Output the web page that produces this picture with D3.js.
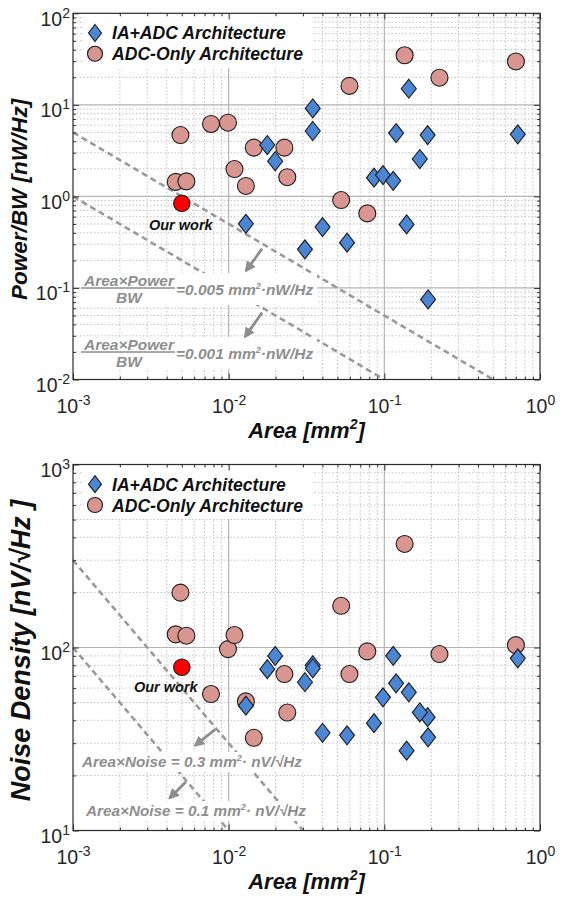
<!DOCTYPE html>
<html><head><meta charset="utf-8">
<script src="https://cdn.jsdelivr.net/npm/d3@7"></script>
<style>body{margin:0;background:#fff} svg{display:block}</style>
</head><body><svg id="c" width="566" height="904"></svg>
<script>
// ---------------- data ----------------
const iaArea    = [0.0347, 0.0347, 0.1436, 0.0177, 0.0199, 0.119, 0.1897, 0.72, 0.169, 0.0858, 0.098, 0.114, 0.0129, 0.0401, 0.139, 0.0309, 0.0576, 0.191];
const iaPowerBW = [9.15, 5.18, 15.0, 3.64, 2.42, 4.92, 4.68, 4.76, 2.56, 1.60, 1.71, 1.48, 0.502, 0.462, 0.494, 0.264, 0.312, 0.0749];
const iaNoise   = [80, 77, 56.9, 76.1, 89.9, 63.7, 41.6, 87.3, 44.2, 38.6, 53.4, 90, 48.1, 34.2, 27.3, 64.6, 33.1, 32.3];

const adcArea    = [0.135, 0.70, 0.226, 0.0597, 0.0077, 0.0099, 0.0049, 0.0145, 0.0228, 0.0109, 0.0238, 0.00457, 0.00535, 0.0129, 0.0528, 0.0777];
const adcPowerBW = [34.8, 29.8, 19.8, 16.1, 6.18, 6.38, 4.68, 3.41, 3.41, 1.99, 1.62, 1.44, 1.46, 1.30, 0.912, 0.652];
const adcNoise   = [368, 103, 92.1, 71.6, 55.7, 98, 199.5, 32.1, 71.6, 117, 44.1, 118, 116, 50.8, 169, 95.2];

const ourArea = [0.005];
const ourPowerBW = [0.84];
const ourNoise = [78];

const xTickVals = [1e-3, 1e-2, 1e-1, 1];
const powerTickVals = [1e-2, 1e-1, 1, 10, 100];
const noiseTickVals = [10, 100, 1000];
const fomPower = [0.005, 0.001];
const fomNoise = [0.3, 0.1];
const legendLabels = ["IA+ADC Architecture", "ADC-Only Architecture"];
const ourLabel = "Our work";

// ---------------- drawing ----------------
const FONT = "'Liberation Sans', Arial, Helvetica, sans-serif";
const X0 = 73, X1 = 540;
const svg = d3.select("#c").attr("font-family", FONT);

const defs = svg.append("defs");
defs.append("marker").attr("id","ah").attr("viewBox","0 0 10 10")
  .attr("refX",8).attr("refY",5).attr("markerWidth",11).attr("markerHeight",11)
  .attr("markerUnits","userSpaceOnUse").attr("orient","auto")
  .append("path").attr("d","M0,0 L10,5 L0,10 z").attr("fill","#8e8e8e");

const IA_FILL = "#4a86d4", ADC_FILL = "#d9958f", STROKE = "#1b1b1b";

function diamond(sel, w, h) {
  return sel.append("path")
    .attr("d", `M0,${-h/2} L${w/2},0 L0,${h/2} L${-w/2},0 Z`)
    .attr("fill", IA_FILL).attr("stroke", STROKE).attr("stroke-width", 1.1);
}

function minorVals(lo, hi) {
  const out = [];
  for (let k = Math.round(Math.log10(lo)); k < Math.round(Math.log10(hi)); k++)
    for (let m = 2; m <= 9; m++) out.push(m * Math.pow(10, k));
  return out;
}

function supText(sel) {
  sel.each(function(d) {
    const t = d3.select(this); t.text(null);
    t.append("tspan").text("10");
    t.append("tspan").attr("dy", -8).attr("font-size", 14).text(Math.round(Math.log10(d)));
  });
}

function drawPanel(p) {
  const x = d3.scaleLog().domain([1e-3, 1]).range([X0, X1]);
  const y = d3.scaleLog().domain(p.yDomain).range([p.bottom, p.top]);
  const g = svg.append("g");
  const xMin = minorVals(1e-3, 1), yMin = minorVals(p.yDomain[0], p.yDomain[1]);

  // minor grid
  g.append("g").selectAll("line").data(xMin).join("line")
    .attr("x1", d => x(d)).attr("x2", d => x(d)).attr("y1", p.top).attr("y2", p.bottom)
    .attr("stroke", "#c2c2c2").attr("stroke-width", 1).attr("stroke-dasharray", "1.5,2");
  g.append("g").selectAll("line").data(yMin).join("line")
    .attr("y1", d => y(d)).attr("y2", d => y(d)).attr("x1", X0).attr("x2", X1)
    .attr("stroke", "#c2c2c2").attr("stroke-width", 1).attr("stroke-dasharray", "1.5,2");
  // major grid
  g.append("g").selectAll("line").data(xTickVals.slice(1, -1)).join("line")
    .attr("x1", d => x(d)).attr("x2", d => x(d)).attr("y1", p.top).attr("y2", p.bottom)
    .attr("stroke", "#b4b4b4").attr("stroke-width", 1.2);
  g.append("g").selectAll("line").data(p.yTicks.slice(1, -1)).join("line")
    .attr("y1", d => y(d)).attr("y2", d => y(d)).attr("x1", X0).attr("x2", X1)
    .attr("stroke", "#b4b4b4").attr("stroke-width", 1.2);

  // figure-of-merit dashed lines
  g.append("g").selectAll("line").data(p.fom).join("line")
    .attr("x1", x(1e-3)).attr("y1", c => y(c / 1e-3))
    .attr("x2", c => x(Math.min(1, c / p.yDomain[0]))).attr("y2", c => y(c / Math.min(1, c / p.yDomain[0])))
    .attr("stroke", "#9a9a9a").attr("stroke-width", 2.6).attr("stroke-dasharray", "6,4");

  // fom labels with white background
  p.labels(g, x, y);

  // arrows
  g.append("g").selectAll("line").data(p.arrows).join("line")
    .attr("x1", a => x(a.A)).attr("y1", a => y(a.c / a.A) + a.off)
    .attr("x2", a => x(a.A) + a.dx).attr("y2", a => y(a.c / a.A) + a.off + a.dy)
    .attr("stroke", "#8e8e8e").attr("stroke-width", 2.8).attr("marker-end", "url(#ah)");

  // data: ADC-only circles
  g.append("g").selectAll("circle").data(adcArea).join("circle")
    .attr("cx", d => x(d)).attr("cy", (d, i) => y(p.adc[i])).attr("r", 8.5)
    .attr("fill", ADC_FILL).attr("stroke", STROKE).attr("stroke-width", 1.1);
  // IA+ADC diamonds
  g.append("g").selectAll("g").data(iaArea).join("g")
    .attr("transform", (d, i) => `translate(${x(d)},${y(p.ia[i])})`)
    .each(function() { diamond(d3.select(this), 15, 19); });
  // our work
  g.append("g").selectAll("circle").data(ourArea).join("circle")
    .attr("cx", d => x(d)).attr("cy", (d, i) => y(p.our[i])).attr("r", 8.2)
    .attr("fill", "#ff0000").attr("stroke", STROKE).attr("stroke-width", 1.1);
  g.append("text").attr("x", x(ourArea[0]) + p.ourDx).attr("y", y(p.our[0]) + p.ourDy)
    .attr("text-anchor", "middle")
    .attr("font-size", 14.5).attr("font-weight", "bold").attr("font-style", "italic")
    .attr("fill", "#111").text(ourLabel);

  // legend
  const lg = g.append("g");
  lg.append("rect").attr("x", 84).attr("y", p.top + 1.5).attr("width", 228).attr("height", 53).attr("fill", "#fff");
  diamond(lg.append("g").attr("transform", `translate(95,${p.top + 19.7})`), 13, 17);
  lg.append("circle").attr("cx", 95).attr("cy", p.top + 40.5).attr("r", 7.5).attr("fill", ADC_FILL)
    .attr("stroke", STROKE).attr("stroke-width", 1.1);
  lg.selectAll("text").data(legendLabels).join("text")
    .attr("x", 112).attr("y", (d, i) => p.top + 26 + i * 21)
    .attr("font-size", 17.6).attr("font-weight", "bold").attr("font-style", "italic").attr("fill", "#111")
    .text(d => d);

  // axes (inward ticks on all sides)
  const ax = (gen, tr) => {
    const a = g.append("g").attr("transform", tr).call(gen);
    a.select(".domain").remove();
    a.selectAll(".tick line").attr("stroke", "#333");
    return a;
  };
  ax(d3.axisBottom(x).tickValues(xMin).tickSize(-3).tickFormat(""), `translate(0,${p.bottom})`);
  ax(d3.axisTop(x).tickValues(xMin).tickSize(-3).tickFormat(""), `translate(0,${p.top})`);
  ax(d3.axisLeft(y).tickValues(yMin).tickSize(-3).tickFormat(""), `translate(${X0},0)`);
  ax(d3.axisRight(y).tickValues(yMin).tickSize(-3).tickFormat(""), `translate(${X1},0)`);
  ax(d3.axisTop(x).tickValues(xTickVals).tickSize(-6).tickFormat(""), `translate(0,${p.top})`);
  ax(d3.axisRight(y).tickValues(p.yTicks).tickSize(-6).tickFormat(""), `translate(${X1},0)`);
  const xb = ax(d3.axisBottom(x).tickValues(xTickVals).tickSize(-6), `translate(0,${p.bottom})`);
  xb.selectAll(".tick text").attr("y", 33.5).attr("dy", null).attr("font-size", 19.5)
    .attr("font-family", FONT).attr("fill", "#262626").call(supText);
  const yl = ax(d3.axisLeft(y).tickValues(p.yTicks).tickSize(-6), `translate(${X0},0)`);
  yl.selectAll(".tick text").attr("x", -3).attr("dy", null).attr("y", 12).attr("font-size", 19.5)
    .attr("font-family", FONT).attr("fill", "#262626").attr("text-anchor", "end").call(supText);

  // frame
  g.append("rect").attr("x", X0).attr("y", p.top).attr("width", X1 - X0).attr("height", p.bottom - p.top)
    .attr("fill", "none").attr("stroke", "#2b2b2b").attr("stroke-width", 1.2);

  // axis titles
  const xt = g.append("text").attr("x", (X0 + X1) / 2).attr("y", p.bottom + 58).attr("text-anchor", "middle")
    .attr("font-size", 22).attr("font-weight", "bold").attr("font-style", "italic").attr("fill", "#111");
  xt.append("tspan").text("Area [mm");
  xt.append("tspan").attr("dy", -9).attr("font-size", 14).text("2");
  xt.append("tspan").attr("dy", 9).text("]");
  g.append("text").attr("transform", `translate(${p.yTitleX},${(p.top + p.bottom) / 2 + 3}) rotate(-90)`)
    .attr("text-anchor", "middle").attr("font-size", p.yTitleSize).attr("font-weight", "bold")
    .attr("font-style", "italic").attr("fill", "#111").text(p.yTitle);
}

function boxText(g, x0, x1, y0, y1) {
  g.append("rect").attr("x", x0).attr("y", y0).attr("width", x1 - x0).attr("height", y1 - y0).attr("fill", "#fff");
}

function fracLabel(g, yLine, value) {
  const G = "#8e8e8e";
  boxText(g, 80, 317, yLine - 15, yLine + 17);
  const t = (xx, yy, anchor) => g.append("text").attr("x", xx).attr("y", yy).attr("text-anchor", anchor)
    .attr("font-size", 15.5).attr("font-weight", "bold").attr("font-style", "italic").attr("fill", G);
  t(129, yLine - 2.5, "middle").text("Area\u00d7Power");
  g.append("line").attr("x1", 81).attr("x2", 175).attr("y1", yLine).attr("y2", yLine).attr("stroke", G).attr("stroke-width", 1.3);
  t(129, yLine + 15, "middle").text("BW");
  const e = t(176, yLine + 7, "start");
  e.append("tspan").text("=" + value + " mm");
  e.append("tspan").attr("dy", -6).attr("font-size", 9).text("2");
  e.append("tspan").attr("dy", 6).text("\u00b7nW/Hz");
}

function noiseLabel(g, x0, yb, value) {
  const G = "#8e8e8e";
  boxText(g, x0 - 2, x0 + 224, yb - 15, yb + 5);
  const e = g.append("text").attr("x", x0).attr("y", yb)
    .attr("font-size", 15.3).attr("font-weight", "bold").attr("font-style", "italic").attr("fill", G);
  e.append("tspan").text("Area\u00d7Noise = " + value + " mm");
  e.append("tspan").attr("dy", -6).attr("font-size", 9).text("2");
  e.append("tspan").attr("dy", 6).text("\u00b7 nV/\u221aHz");
}

drawPanel({
  top: 13.3, bottom: 379.5, yDomain: [1e-2, 1e2], yTicks: powerTickVals,
  ia: iaPowerBW, adc: adcPowerBW, our: ourPowerBW, fom: fomPower,
  yTitle: "Power/BW [nW/Hz]", yTitleSize: 22.5, yTitleX: 27, ourDx: -1, ourDy: 27,
  arrows: [{c: fomPower[0], A: 0.0164, off: 5, dx: -16, dy: 22}, {c: fomPower[1], A: 0.0164, off: 5, dx: -17, dy: 24}],
  labels: (g) => { fracLabel(g, 288, "0.005"); fracLabel(g, 352, "0.001"); }
});

drawPanel({
  top: 464.5, bottom: 830.5, yDomain: [10, 1000], yTicks: noiseTickVals,
  ia: iaNoise, adc: adcNoise, our: ourNoise, fom: fomNoise,
  yTitle: "Noise Density [nV/\u221aHz ]", yTitleSize: 27, yTitleX: 30, ourDx: -16, ourDy: 25,
  arrows: [{c: fomNoise[0], A: 0.0082, off: 2, dx: -20, dy: 16}, {c: fomNoise[1], A: 0.0053, off: 2, dx: -16, dy: 16}],
  labels: (g) => { noiseLabel(g, 82, 767, "0.3"); noiseLabel(g, 86, 816, "0.1"); }
});
</script>
</body></html>
